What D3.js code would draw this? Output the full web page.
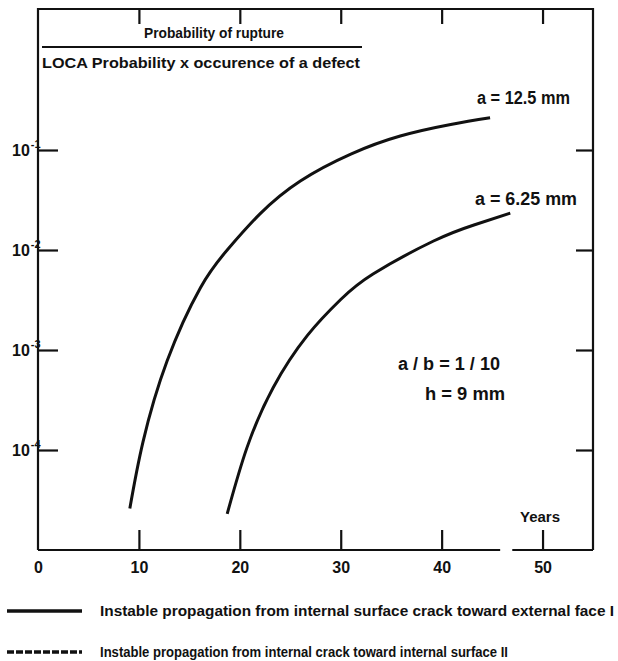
<!DOCTYPE html>
<html>
<head>
<meta charset="utf-8">
<script src="https://cdn.jsdelivr.net/npm/d3@7"></script>
<style>
  body { margin: 0; background: #fff; }
  svg text { font-family: "Liberation Sans", "Arial", sans-serif; font-weight: bold; fill: #111; }
</style>
</head>
<body>
<svg id="chart" width="618" height="661"></svg>
<script>
// curve for a = 12.5 mm (years, probability)
var yearsA = [9.1, 10.4, 12.8, 16.1, 18.75, 22.0, 26.0, 31.0, 35.9, 40.9, 44.8];
var probA  = [2.6e-5, 1.2e-4, 7.8e-4, 4.2e-3, 1.0e-2, 2.3e-2, 4.9e-2, 9.1e-2, 0.138, 0.18, 0.21];

// curve for a = 6.25 mm
var yearsB = [18.75, 20.7, 23.3, 26.7, 30.0, 33.2, 39.2, 43.2, 46.8];
var probB  = [2.3e-5, 1.05e-4, 4.2e-4, 1.4e-3, 3.2e-3, 5.75e-3, 1.23e-2, 1.78e-2, 2.34e-2];

var xTicks = [0, 10, 20, 30, 40, 50];
var yTicks = [1e-1, 1e-2, 1e-3, 1e-4];
var yTickExp = ["-1", "-2", "-3", "-4"];

var legendLabels = [
  "Instable propagation from internal surface crack toward external face I",
  "Instable propagation from internal crack toward internal surface II"
];

var svg = d3.select("#chart");

var x = d3.scaleLinear().domain([0, 55]).range([38, 593]);
var y = d3.scaleLog().domain([1e-5, Math.pow(10, 0.41)]).range([550, 9]);

// frame (left, top, right)
svg.append("path")
  .attr("d", "M" + x(0) + "," + y(1e-5) + "V" + y.range()[1] + "H" + x(55) + "V" + y(1e-5))
  .attr("fill", "none").attr("stroke", "#111").attr("stroke-width", 2.2);

// bottom line, broken near the end
svg.append("line").attr("x1", x(0)).attr("x2", x(45.8)).attr("y1", 550).attr("y2", 550)
  .attr("stroke", "#111").attr("stroke-width", 2.2);
svg.append("line").attr("x1", x(47)).attr("x2", x(55)).attr("y1", 550).attr("y2", 550)
  .attr("stroke", "#111").attr("stroke-width", 2.2);

// axes
var xAxis = svg.append("g").attr("transform", "translate(0,550)")
  .call(d3.axisBottom(x).tickValues(xTicks).tickSize(-20).tickPadding(12).tickFormat(d3.format("d")));
xAxis.selectAll(".tick line").filter(d => d === 0).remove();

var topAxis = svg.append("g").attr("transform", "translate(0," + y.range()[1] + ")")
  .call(d3.axisTop(x).tickValues([10, 20, 30, 40, 50]).tickSize(-15).tickFormat(""));

var leftAxis = svg.append("g").attr("transform", "translate(" + x(0) + ",0)")
  .call(d3.axisLeft(y).tickValues(yTicks).tickSize(-20).tickFormat(""));

var rightAxis = svg.append("g").attr("transform", "translate(" + x(55) + ",0)")
  .call(d3.axisRight(y).tickValues(yTicks).tickSize(-17).tickFormat(""));

[xAxis, topAxis, leftAxis, rightAxis].forEach(function(g) {
  g.select(".domain").remove();
  g.selectAll(".tick line").attr("stroke", "#111").attr("stroke-width", 2.2);
});
xAxis.selectAll("text").attr("font-size", 16).attr("fill", "#111")
  .style("font-family", "'Liberation Sans', sans-serif").style("font-weight", "bold");

// y tick labels: 10 with exponent
var yl = svg.append("g").selectAll("text").data(yTicks).enter().append("text")
  .attr("x", 12).attr("y", d => y(d) + 6)
  .attr("font-size", 16);
yl.append("tspan").text("10");
yl.append("tspan").attr("dy", -8).attr("dx", 1).attr("font-size", 11).text((d, i) => yTickExp[i]);

// curves
var line = d3.line().x(d => x(d[0])).y(d => y(d[1])).curve(d3.curveNatural);
svg.append("path").datum(yearsA.map((v, i) => [v, probA[i]]))
  .attr("d", line).attr("fill", "none").attr("stroke", "#111").attr("stroke-width", 3);
svg.append("path").datum(yearsB.map((v, i) => [v, probB[i]]))
  .attr("d", line).attr("fill", "none").attr("stroke", "#111").attr("stroke-width", 3);

// title (fraction)
svg.append("text").attr("x", 144).attr("y", 38).attr("font-size", 14)
  .attr("textLength", 140).attr("lengthAdjust", "spacingAndGlyphs")
  .text("Probability of rupture");
svg.append("line").attr("x1", 42).attr("x2", 362).attr("y1", 47).attr("y2", 47)
  .attr("stroke", "#111").attr("stroke-width", 2);
svg.append("text").attr("x", 42).attr("y", 68).attr("font-size", 14)
  .attr("textLength", 318).attr("lengthAdjust", "spacingAndGlyphs")
  .text("LOCA Probability x occurence of a defect");

// annotations
var notes = [
  { t: "a = 12.5 mm", x: 477, y: 104, w: 93 },
  { t: "a = 6.25 mm", x: 475, y: 205, w: 102 },
  { t: "a / b = 1 / 10", x: 398, y: 370, w: 102 },
  { t: "h = 9 mm", x: 425, y: 400, w: 80 }
];
svg.append("g").selectAll("text").data(notes).enter().append("text")
  .attr("x", d => d.x).attr("y", d => d.y).attr("font-size", 18)
  .attr("textLength", d => d.w).attr("lengthAdjust", "spacingAndGlyphs")
  .text(d => d.t);
svg.append("text").attr("x", 520).attr("y", 522).attr("font-size", 14)
  .attr("textLength", 40).attr("lengthAdjust", "spacingAndGlyphs").text("Years");

// legend
var legendY = [611, 652];
var legendEnd = [614, 508];
var lg = svg.append("g").selectAll("g").data(legendLabels).enter().append("g");
lg.append("line").attr("x1", 7).attr("x2", 82).attr("y1", (d, i) => legendY[i]).attr("y2", (d, i) => legendY[i])
  .attr("stroke", "#111").attr("stroke-width", 3.5)
  .attr("stroke-dasharray", (d, i) => i === 1 ? "7,2" : null);
lg.append("text").attr("x", 100).attr("y", (d, i) => legendY[i] + 5).attr("font-size", 14)
  .attr("textLength", (d, i) => legendEnd[i] - 100).attr("lengthAdjust", "spacingAndGlyphs")
  .text(d => d);
</script>
</body>
</html>
